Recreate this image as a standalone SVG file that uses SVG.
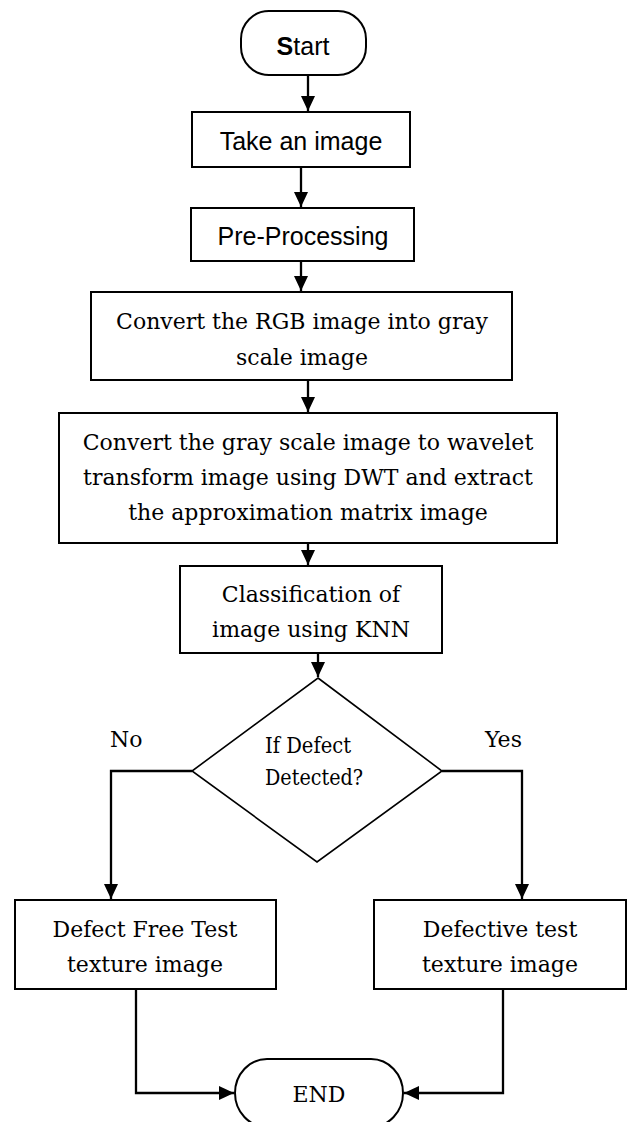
<svg xmlns="http://www.w3.org/2000/svg" width="634" height="1122" viewBox="0 0 634 1122">
<style>
.box{fill:#fff;stroke:#000;stroke-width:2}
.dia{fill:#fff;stroke:#000;stroke-width:1.6}
.sans{font-family:"Liberation Sans",Arial,sans-serif;font-size:25px;fill:#000}
.serif{font-family:"DejaVu Serif","Liberation Serif",serif;font-size:22px;fill:#000}
.c{text-anchor:middle}
.conn{fill:none;stroke:#000;stroke-width:2.3}
</style>
<defs>
<marker id="arr" markerUnits="userSpaceOnUse" markerWidth="16" markerHeight="16" refX="15" refY="7" orient="auto">
<path d="M0,0 L15,7 L0,14 Z" fill="#000"/>
</marker>
</defs>
<rect width="634" height="1122" fill="#fff"/>
<g id="connectors">
<path class="conn" d="M308,75 V111" marker-end="url(#arr)"/>
<path class="conn" d="M301,167 V207" marker-end="url(#arr)"/>
<path class="conn" d="M301,261 V291" marker-end="url(#arr)"/>
<path class="conn" d="M308,380 V412" marker-end="url(#arr)"/>
<path class="conn" d="M308,543 V565" marker-end="url(#arr)"/>
<path class="conn" d="M318,653 V677" marker-end="url(#arr)"/>
<path class="conn" d="M192,771 H111 V899" marker-end="url(#arr)"/>
<path class="conn" d="M442,771 H522 V899" marker-end="url(#arr)"/>
<path class="conn" d="M136,989 V1093 H234" marker-end="url(#arr)"/>
<path class="conn" d="M503,989 V1093 H404" marker-end="url(#arr)"/>
</g>
<g id="start">
<rect class="box" x="241" y="11" width="125" height="64" rx="28" ry="28"/>
<text class="sans c" x="303" y="55"><tspan font-weight="bold">S</tspan>tart</text>
</g>
<g id="take">
<rect class="box" x="192" y="112" width="218" height="55"/>
<text class="sans c" x="301" y="150">Take an image</text>
</g>
<g id="pre">
<rect class="box" x="191" y="208" width="223" height="53"/>
<text class="sans c" x="303" y="245">Pre-Processing</text>
</g>
<g id="rgb">
<rect class="box" x="91" y="292" width="421" height="88"/>
<text class="serif c" x="302" y="329">Convert the RGB image into gray</text>
<text class="serif c" x="302" y="365">scale image</text>
</g>
<g id="dwt">
<rect class="box" x="59" y="413" width="498" height="130"/>
<text class="serif c" x="308" y="450">Convert the gray scale image to wavelet</text>
<text class="serif c" x="308" y="485">transform image using DWT and extract</text>
<text class="serif c" x="308" y="520">the approximation matrix image</text>
</g>
<g id="classify">
<rect class="box" x="180" y="566" width="262" height="87"/>
<text class="serif c" x="311" y="602">Classification of</text>
<text class="serif c" x="311" y="637">image using KNN</text>
</g>
<g id="decision">
<polygon class="dia" points="318,678 442,771 317,862 192,771"/>
<text class="serif" x="265" y="753" font-size="20" textLength="86" lengthAdjust="spacingAndGlyphs">If Defect</text>
<text class="serif" x="265" y="785" font-size="20" textLength="98" lengthAdjust="spacingAndGlyphs">Detected?</text>
</g>
<g id="labels">
<text class="serif" x="110" y="747">No</text>
<text class="serif" x="485" y="747">Yes</text>
</g>
<g id="defectfree">
<rect class="box" x="15" y="900" width="261" height="89"/>
<text class="serif c" x="145" y="937">Defect Free Test</text>
<text class="serif c" x="145" y="972">texture image</text>
</g>
<g id="defective">
<rect class="box" x="374" y="900" width="252" height="89"/>
<text class="serif c" x="500" y="937">Defective test</text>
<text class="serif c" x="500" y="972">texture image</text>
</g>
<g id="end">
<rect class="box" x="235" y="1059" width="168" height="68" rx="32" ry="34"/>
<text class="serif c" x="319" y="1102">END</text>
</g>
</svg>
